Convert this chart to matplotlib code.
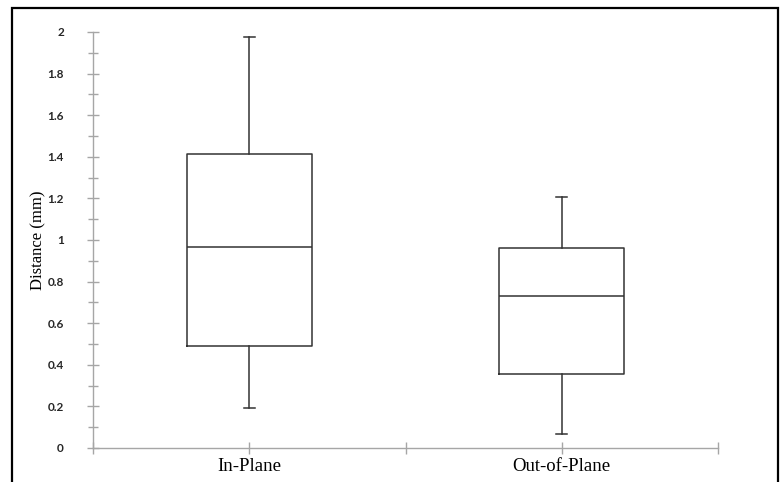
import matplotlib
matplotlib.use("Agg")
import matplotlib.pyplot as plt
from matplotlib.patches import Rectangle
from matplotlib.ticker import MultipleLocator

#===== DATA =====#
categories = ['In-Plane', 'Out-of-Plane']
whisker_low = [0.19, 0.067]
q1 = [0.49, 0.356]
median = [0.965, 0.73]
q3 = [1.415, 0.963]
whisker_high = [1.975, 1.208]
y_ticks = [0, 0.2, 0.4, 0.6, 0.8, 1, 1.2, 1.4, 1.6, 1.8, 2]
y_tick_labels = ['0', '0.2', '0.4', '0.6', '0.8', '1', '1.2', '1.4', '1.6', '1.8', '2']

#===== FIGURE =====#
fig = plt.figure(figsize=(7.81, 4.82), dpi=100)
ax = fig.add_axes([93 / 781, 1 - 448 / 482, 625 / 781, 416 / 482])

# outer frame round the whole picture
fig.patches.append(Rectangle((12 / 781, -0.05), 766 / 781, 1.05 - 8 / 482,
                             transform=fig.transFigure, fill=False,
                             edgecolor='black', linewidth=1.6))

stats = []
for i, name in enumerate(categories):
    stats.append({'label': name, 'whislo': whisker_low[i], 'q1': q1[i],
                  'med': median[i], 'q3': q3[i], 'whishi': whisker_high[i],
                  'fliers': []})

line_style = dict(color='#333333', linewidth=1.1)
ax.bxp(stats, positions=[1, 2], widths=0.4, showfliers=False,
       boxprops=line_style, medianprops=line_style,
       whiskerprops=line_style, capprops=line_style, capwidths=0.035)

#===== AXES =====#
ax.set_xlim(0.5, 2.5)
ax.set_ylim(0, 2)
for side in ['top', 'right']:
    ax.spines[side].set_visible(False)
for side in ['left', 'bottom']:
    ax.spines[side].set_color('#a6a6a6')
    ax.spines[side].set_linewidth(1.0)

ax.set_yticks(y_ticks)
ax.set_yticklabels(y_tick_labels, fontname='Lato', fontweight='bold',
                   fontsize=8.5, color='#262626')
ax.yaxis.set_minor_locator(MultipleLocator(0.1))
ax.tick_params(axis='y', which='both', direction='inout', length=8,
               width=1.0, color='#a6a6a6', pad=17)
ax.tick_params(axis='y', which='minor', length=7)

ax.set_xticks([1, 2])
ax.set_xticklabels(categories, fontname='Liberation Serif', fontsize=13.5,
                   color='black')
ax.xaxis.set_minor_locator(MultipleLocator(0.5))
ax.tick_params(axis='x', which='both', direction='inout', length=8,
               width=1.0, color='#a6a6a6', pad=3)

ax.set_ylabel('Distance (mm)', fontname='Liberation Serif', fontsize=12)
ax.yaxis.set_label_coords(-0.075, 0.5)

fig.savefig('out.png', dpi=100)
